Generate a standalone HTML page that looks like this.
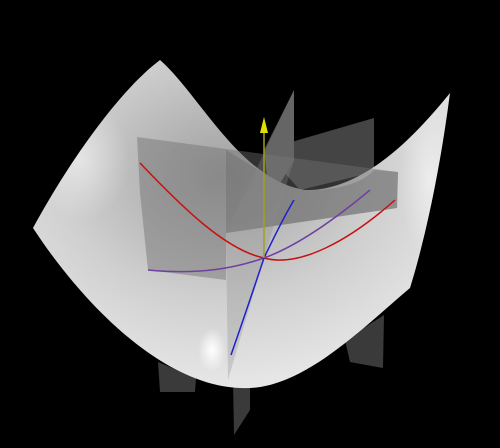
<!DOCTYPE html>
<html><head><meta charset="utf-8"><style>
html,body{margin:0;padding:0;background:#000;width:500px;height:448px;overflow:hidden}
</style></head><body>
<svg width="500" height="448" viewBox="0 0 500 448">
<defs>
<radialGradient id="g1" cx="0.45" cy="0.35" r="0.75">
<stop offset="0" stop-color="#a0a0a0"/><stop offset="0.5" stop-color="#cfcfcf"/><stop offset="1" stop-color="#f0f0f0"/>
</radialGradient>
<radialGradient id="hl" cx="0.5" cy="0.5" r="0.5">
<stop offset="0" stop-color="#fff" stop-opacity="1"/><stop offset="1" stop-color="#fff" stop-opacity="0"/>
</radialGradient>
<clipPath id="surf"><path d="M33,228 C70,160 120,90 160,60 C200,95 240,180 305,190 C365,192 420,130 450,93 C440,170 425,240 410,288 C360,330 300,392 240,388 C160,385 80,300 33,228 Z"/></clipPath>
</defs>
<rect width="500" height="448" fill="#000"/>
<polygon points="158,362 196,378 195,392 160,392" fill="#3a3a3a"/>
<polygon points="345,340 384,315 383,368 350,362" fill="#3a3a3a"/>
<polygon points="233,380 250,375 250,410 234,435" fill="#3a3a3a"/>
<polygon points="264,150 374,118 374,172 300,190" fill="#444"/>
<polygon points="264,150 294,90 294,160 270,200" fill="#555"/>
<path d="M33,228 C70,160 120,90 160,60 C200,95 240,180 305,190 C365,192 420,130 450,93 C440,170 425,240 410,288 C360,330 300,392 240,388 C160,385 80,300 33,228 Z" fill="url(#g1)"/>
<g clip-path="url(#surf)">
<ellipse cx="212" cy="350" rx="14" ry="22" fill="url(#hl)"/>
<ellipse cx="80" cy="160" rx="50" ry="60" fill="url(#hl)" opacity="0.5"/>
<ellipse cx="430" cy="180" rx="30" ry="80" fill="url(#hl)" opacity="0.5"/>
</g>
<path d="M226,150 C260,170 285,190 310,190 C345,190 365,180 374,170 L398,172 L397,208 L226,233 Z" fill="rgba(90,90,90,0.35)"/>
<polygon points="137,137 398,172 397,208 226,233 140,193" fill="rgba(110,110,110,0.45)"/>
<polygon points="140,193 226,233 226,280 148,270" fill="rgba(110,110,110,0.45)"/>
<polygon points="294,90 226,233 228,380 264,258 294,160" fill="rgba(140,140,140,0.3)"/>
<path d="M140,163 C180,205 225,250 264,258 C300,268 350,240 395,200" fill="none" stroke="#c81010" stroke-width="1.5"/>
<path d="M148,270 C200,275 235,268 264,258 C300,245 340,215 370,190" fill="none" stroke="#7040a0" stroke-width="1.5"/>
<path d="M231,355 C245,315 255,285 264,258 C275,235 285,215 294,200" fill="none" stroke="#2020d0" stroke-width="1.5"/>
<line x1="264" y1="258" x2="264" y2="132" stroke="#a0a020" stroke-width="1.5"/>
<polygon points="264,117 260,133 268,133" fill="#e0e000"/>
</svg>
</body></html>
